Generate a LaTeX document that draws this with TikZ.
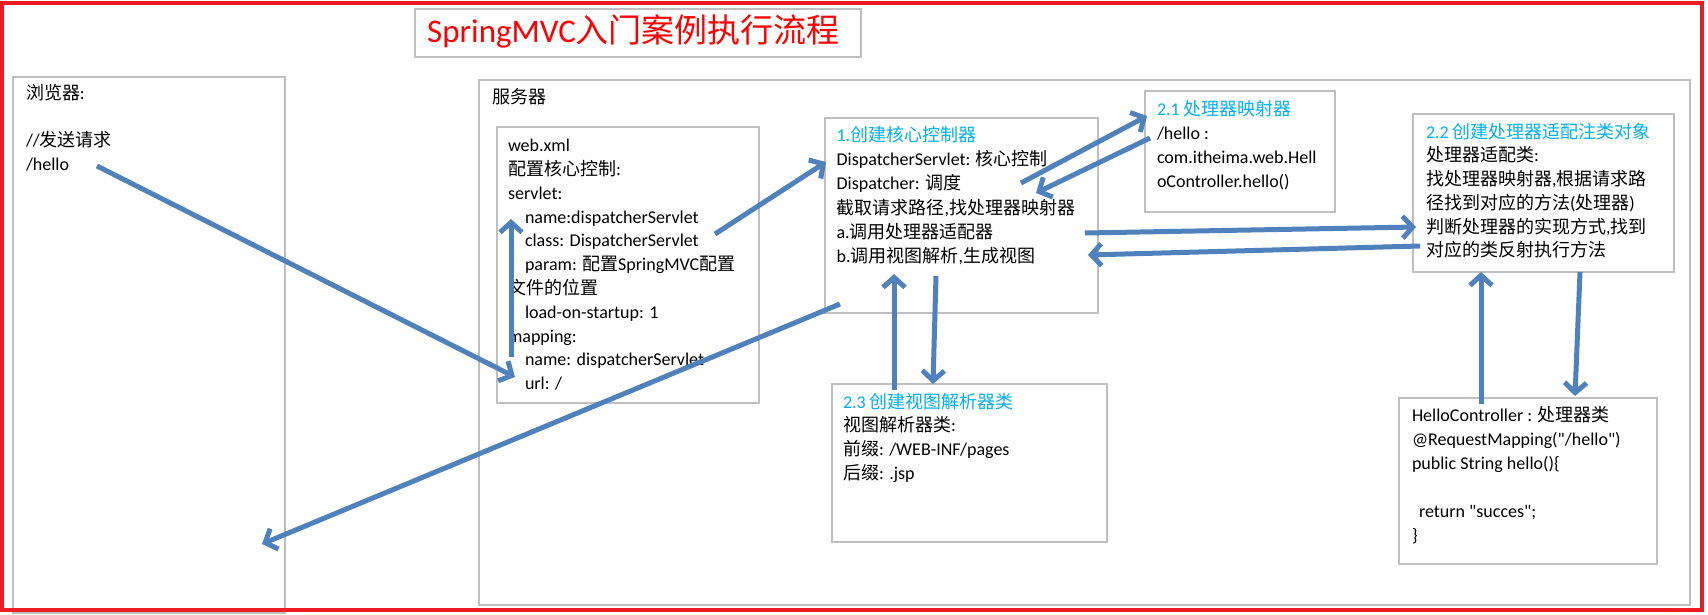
\documentclass[tikz,border=0pt]{standalone}
\usepackage{fontspec}
\setmainfont{Carlito}
\newfontfamily\latf{Carlito}
\newfontfamily\zh{Noto Sans CJK SC}
\usetikzlibrary{arrows.meta}
\definecolor{bordred}{HTML}{ED1C24}
\definecolor{titlered}{HTML}{FF0000}
\definecolor{boxgray}{HTML}{BFBFBF}
\definecolor{arrblue}{HTML}{4F81BD}
\definecolor{headcyan}{HTML}{00B0F0}
\newcommand{\ind}{\hspace*{17pt}}
\begin{document}
\begin{tikzpicture}[x=1pt,y=-1pt,
 gbox/.style={draw=boxgray, line width=1.3pt, inner sep=0pt, outer sep=0pt, anchor=north west},
 txt/.style={anchor=north west, inner sep=0pt, outer sep=0pt, align=left, text=black, font=\latf\fontsize{18}{#1}\selectfont},
 flow/.style={draw=arrblue, line width=5pt, -{Straight Barb[length=10pt,width=22pt]}},
]
\useasboundingbox (0,0) rectangle (1708,615);

% boxes
\node[gbox, minimum width=446, minimum height=48] (titlebox) at (415,9) {};
\node[gbox, minimum width=272, minimum height=536] (browser) at (13,77) {};
\node[gbox, minimum width=1211, minimum height=525] (server) at (479,80) {};
\node[gbox, minimum width=262, minimum height=276] (web) at (497,127) {};
\node[gbox, minimum width=273, minimum height=195] (core) at (825,118) {};
\node[gbox, minimum width=190, minimum height=121] (mapper) at (1145,91) {};
\node[gbox, minimum width=261, minimum height=158] (adapter) at (1413,114) {};
\node[gbox, minimum width=275, minimum height=158] (viewres) at (832,384) {};
\node[gbox, minimum width=258, minimum height=166] (hello) at (1399,398) {};

% title
\node[anchor=west, inner sep=0pt, text=titlered, font=\latf\fontsize{33}{40}\selectfont] (title) at (427,31) {SpringMVC{\zh 入门案例执行流程}};

% texts
\node[txt=23.6] (browsertxt) at (26,83) {\strut{\zh 浏览器}:\\ \strut\\ //{\zh 发送请求}\\ /hello};
\node[txt=24] (servertxt) at (492,87) {\strut{\zh 服务器}};
\node[txt=23.8] (webtxt) at (508,135) {\strut web.xml\\
{\zh 配置核心控制}:\\
servlet:\\
\ind name:dispatcherServlet\\
\ind class: DispatcherServlet\\
\ind param: {\zh 配置}SpringMVC{\zh 配置}\\
{\zh 文件的位置}\\
\ind load-on-startup: 1\\
mapping:\\
\ind name: dispatcherServlet\\
\ind url: /};
\node[txt=24.2] (coretxt) at (836.6,124.5) {\strut{\color{headcyan}1.{\zh 创建核心控制器}}\\
DispatcherServlet: {\zh 核心控制}\\
Dispatcher: {\zh 调度}\\
{\zh 截取请求路径},{\zh 找处理器映射器}\\
a.{\zh 调用处理器适配器}\\
b.{\zh 调用视图解析},{\zh 生成视图}};
\node[txt=24.3] (mappertxt) at (1157,98) {\strut{\color{headcyan}2.1 {\zh 处理器映射器}}\\
/hello :\\
com.itheima.web.Hell\\
oController.hello()};
\node[txt=23.7] (adaptertxt) at (1426,121.7) {\strut{\color{headcyan}2.2 {\zh 创建处理器适配注类对象}}\\
{\zh 处理器适配类}:\\
{\zh 找处理器映射器},{\zh 根据请求路}\\
{\zh 径找到对应的方法}({\zh 处理器})\\
{\zh 判断处理器的实现方式},{\zh 找到}\\
{\zh 对应的类反射执行方法}};
\node[txt=23.7] (viewtxt) at (843,391.7) {\strut{\color{headcyan}2.3 {\zh 创建视图解析器类}}\\
{\zh 视图解析器类}:\\
{\zh 前缀}: /WEB-INF/pages\\
{\zh 后缀}: .jsp};
\node[txt=24] (hellotxt) at (1412,405) {\strut HelloController : {\zh 处理器类}\\
@RequestMapping("/hello")\\
public String hello()\{\\
\strut\\
\hspace*{7pt}return "succes";\\
\}};

% arrow end points
\coordinate (a1s) at (97,166);   \coordinate (a1e) at (515,377);
\coordinate (a2s) at (511,357);  \coordinate (a2e) at (511,219);
\coordinate (a3s) at (715,234);  \coordinate (a3e) at (826,162);
\coordinate (a4s) at (1021,183); \coordinate (a4e) at (1147,116);
\coordinate (a5s) at (1150,138); \coordinate (a5e) at (1036,193);
\coordinate (a6s) at (1085,233); \coordinate (a6e) at (1416,227);
\coordinate (a7s) at (1420,246); \coordinate (a7e) at (1088,255);
\coordinate (a8s) at (840,304);  \coordinate (a8e) at (262,544);
\coordinate (a9s) at (894,390);  \coordinate (a9e) at (894,274);
\coordinate (a10s) at (936,276); \coordinate (a10e) at (933,384);
\coordinate (a11s) at (1481,404); \coordinate (a11e) at (1481,272);
\coordinate (a12s) at (1580,272); \coordinate (a12e) at (1575,396);

\foreach \i in {1,...,12} {\draw[flow] (a\i s) -- (a\i e);}

% outer red frame
\node[draw=bordred, line width=4pt, inner sep=0pt, outer sep=0pt, anchor=north west, minimum width=1700, minimum height=606.7] (frame) at (2,3.3) {};
\end{tikzpicture}
\end{document}
